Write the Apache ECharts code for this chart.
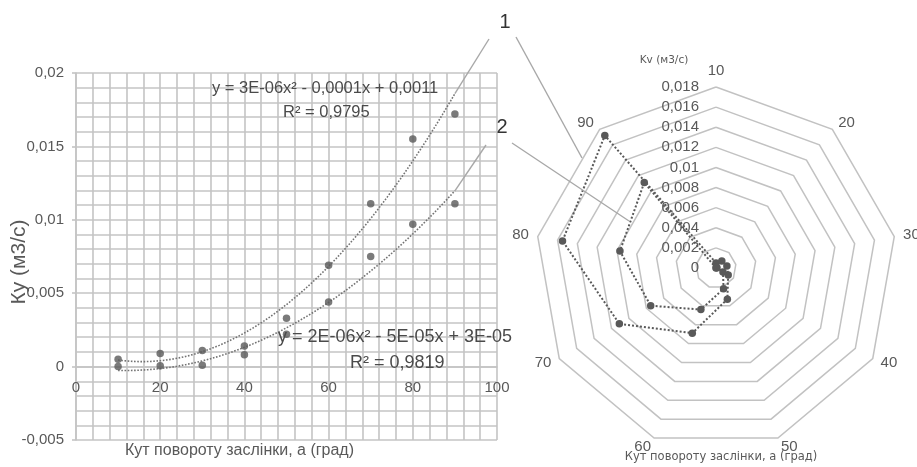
<!DOCTYPE html>
<html><head><meta charset="utf-8">
<script src="https://cdn.jsdelivr.net/npm/echarts@6/dist/echarts.min.js"></script>
<style>html,body{margin:0;padding:0;background:#fff}#c{width:917px;height:467px}</style>
</head><body><div id="c"></div>
<script>
// ---- data ----
const angles = [10, 20, 30, 40, 50, 60, 70, 80, 90];
const ky1 = [0.0005, 0.0009, 0.0011, 0.0014, 0.0033, 0.0069, 0.0111, 0.0155, 0.0172];
const ky2 = [0.0000, 0.00005, 0.0001, 0.0008, 0.0022, 0.0044, 0.0075, 0.0097, 0.0111];
const xTickLabels = ['0', '20', '40', '60', '80', '100'];
const yTickLabels = ['-0,005', '0', '0,005', '0,01', '0,015', '0,02'];
const radarTickLabels = ['0', '0,002', '0,004', '0,006', '0,008', '0,01', '0,012', '0,014', '0,016', '0,018'];
const eq1 = 'y = 3E-06x² - 0,0001x + 0,0011';
const r1 = 'R² = 0,9795';
const eq2 = 'y = 2E-06x² - 5E-05x + 3E-05';
const r2 = 'R² = 0,9819';

const FONT = 'Liberation Sans';
const GREY = '#595959';

// least-squares quadratic trendline (as the spreadsheet does)
function quadFit(xs, ys) {
  let S = [0, 0, 0, 0, 0], T = [0, 0, 0];
  xs.forEach((x, i) => {
    for (let k = 0; k < 5; k++) S[k] += Math.pow(x, k);
    for (let k = 0; k < 3; k++) T[k] += ys[i] * Math.pow(x, k);
  });
  const A = [[S[0], S[1], S[2], T[0]], [S[1], S[2], S[3], T[1]], [S[2], S[3], S[4], T[2]]];
  for (let c = 0; c < 3; c++) {
    for (let r = c + 1; r < 3; r++) {
      const f = A[r][c] / A[c][c];
      for (let k = c; k < 4; k++) A[r][k] -= f * A[c][k];
    }
  }
  const b = [0, 0, 0];
  for (let r = 2; r >= 0; r--) {
    let s = A[r][3];
    for (let k = r + 1; k < 3; k++) s -= A[r][k] * b[k];
    b[r] = s / A[r][r];
  }
  return x => b[0] + b[1] * x + b[2] * x * x;
}
const f1 = quadFit(angles, ky1), f2 = quadFit(angles, ky2);
const trendX = [];
for (let x = angles[0]; x <= angles[angles.length - 1]; x += 1) trendX.push(x);

const order = [0, 8, 7, 6, 5, 4, 3, 2, 1]; // clockwise placement on radar
const fmtVal = (list, min, step) => v => list[Math.round((v - min) / step)] ?? '';

const Y_MIN = -0.005, Y_MAX = 0.02, GRID_H = 367;
const zeroOffset = -GRID_H * (0 - Y_MIN) / (Y_MAX - Y_MIN); // x axis crosses at y = 0

const chart = echarts.init(document.getElementById('c'), null, { renderer: 'canvas' });
const gridLine = { color: '#c4c4c4', width: 1.6 };
chart.setOption({
  animation: false,
  backgroundColor: '#fff',
  grid: [
    { left: 76, top: 73, width: 421, height: GRID_H },
    { left: 701, top: 87, width: 1, height: 181 }
  ],
  xAxis: [
    {
      type: 'value', gridIndex: 0, min: 0, max: 100, interval: 20, offset: zeroOffset,
      axisLine: { onZero: false, lineStyle: gridLine },
      axisTick: { show: false },
      axisLabel: { color: GREY, fontSize: 15, fontFamily: FONT, margin: 14, formatter: fmtVal(xTickLabels, 0, 20) },
      splitLine: { show: true, lineStyle: gridLine },
      minorTick: { show: false, splitNumber: 5 },
      minorSplitLine: { show: true, lineStyle: gridLine }
    },
    { type: 'value', gridIndex: 1, show: false, min: 0, max: 1 }
  ],
  yAxis: [
    {
      type: 'value', gridIndex: 0, min: Y_MIN, max: Y_MAX, interval: 0.005,
      axisLine: { show: true, onZero: false, lineStyle: gridLine },
      axisTick: { show: true, length: 4, lineStyle: gridLine },
      axisLabel: { color: GREY, fontSize: 15, fontFamily: FONT, margin: 12, formatter: fmtVal(yTickLabels, Y_MIN, 0.005) },
      splitLine: { show: true, lineStyle: gridLine },
      minorTick: { show: false, splitNumber: 5 },
      minorSplitLine: { show: true, lineStyle: gridLine }
    },
    {
      type: 'value', gridIndex: 1, min: 0, max: 0.018, interval: 0.002,
      axisLine: { show: false }, axisTick: { show: false }, splitLine: { show: false },
      axisLabel: { color: GREY, fontSize: 15, fontFamily: FONT, margin: 2, formatter: fmtVal(radarTickLabels, 0, 0.002) }
    }
  ],
  radar: {
    center: [716, 268], radius: 181, startAngle: 90, splitNumber: 9, shape: 'polygon',
    indicator: order.map(i => ({ name: String(angles[i]), min: 0, max: 0.018 })),
    axisName: { color: GREY, fontSize: 15, fontFamily: FONT },
    nameGap: 9,
    splitLine: { lineStyle: { color: '#c2c2c2', width: 1.5 } },
    splitArea: { show: false },
    axisLine: { show: false },
    axisTick: { show: false },
    axisLabel: { show: false }
  },
  series: [
    { type: 'line', xAxisIndex: 0, yAxisIndex: 0, data: trendX.map(x => [x, f1(x)]), showSymbol: false, symbol: 'none',
      lineStyle: { type: 'dotted', width: 1.6, color: '#737373' }, z: 3 },
    { type: 'line', xAxisIndex: 0, yAxisIndex: 0, data: trendX.map(x => [x, f2(x)]), showSymbol: false, symbol: 'none',
      lineStyle: { type: 'dotted', width: 1.6, color: '#737373' }, z: 3 },
    { type: 'scatter', xAxisIndex: 0, yAxisIndex: 0, data: angles.map((a, i) => [a, ky1[i]]), symbolSize: 7.5,
      itemStyle: { color: GREY }, z: 4 },
    { type: 'scatter', xAxisIndex: 0, yAxisIndex: 0, data: angles.map((a, i) => [a, ky2[i]]), symbolSize: 7.5,
      itemStyle: { color: GREY }, z: 4 },
    { type: 'radar', symbol: 'circle', symbolSize: 7.5, z: 3,
      lineStyle: { type: 'dotted', width: 2, color: GREY }, itemStyle: { color: GREY },
      data: [
        { value: order.map(i => ky1[i]) },
        { value: order.map(i => ky2[i]) }
      ] }
  ]
});

const a1 = chart.convertToPixel({ gridIndex: 0 }, [angles[8], f1(angles[8])]);
const a2 = chart.convertToPixel({ gridIndex: 0 }, [angles[8], f2(angles[8])]);
const lead = { stroke: '#a8a8a8', lineWidth: 1.4 };
const txt = (x, y, text, size, opts = {}) => ({
  type: 'text', x, y, z: 10,
  style: Object.assign({ text, fill: GREY, font: size + 'px "' + FONT + '"', textVerticalAlign: 'middle' }, opts)
});
chart.setOption({
  graphic: [
    txt(212, 88, eq1, 16.5, { fill: '#4a4a4a' }),
    txt(283, 112, r1, 16.5, { fill: '#4a4a4a' }),
    txt(278, 337, eq2, 18, { fill: '#4a4a4a' }),
    txt(350, 363, r2, 18, { fill: '#4a4a4a' }),
    { type: 'text', x: 19, y: 262, rotation: Math.PI / 2, z: 10,
      style: { text: 'Ку (м3/с)', fill: GREY, font: '21px "' + FONT + '"', textAlign: 'center', textVerticalAlign: 'middle' } },
    txt(125, 451, 'Кут повороту заслінки, а (град)', 16),
    { type: 'text', x: 664, y: 60, z: 10,
      style: { text: 'Kv (м3/с)', fill: GREY, font: '10.5px "DejaVu Sans"', textAlign: 'center', textVerticalAlign: 'middle' } },
    { type: 'text', x: 721, y: 457, z: 10,
      style: { text: 'Кут повороту заслінки, а (град)', fill: GREY, font: '11.5px "DejaVu Sans"', textAlign: 'center', textVerticalAlign: 'middle' } },
    { type: 'text', x: 505, y: 22, z: 10,
      style: { text: '1', fill: '#333', font: '20px "' + FONT + '"', textAlign: 'center', textVerticalAlign: 'middle' } },
    { type: 'text', x: 502, y: 127, z: 10,
      style: { text: '2', fill: '#333', font: '20px "' + FONT + '"', textAlign: 'center', textVerticalAlign: 'middle' } },
    { type: 'line', z: 9, shape: { x1: 489, y1: 39, x2: a1[0], y2: a1[1] }, style: lead },
    { type: 'line', z: 9, shape: { x1: 516, y1: 37, x2: 582, y2: 158 }, style: lead },
    { type: 'line', z: 9, shape: { x1: 486, y1: 145, x2: a2[0], y2: a2[1] }, style: lead },
    { type: 'line', z: 9, shape: { x1: 512, y1: 143, x2: 629, y2: 221 }, style: lead }
  ]
});
</script></body></html>
